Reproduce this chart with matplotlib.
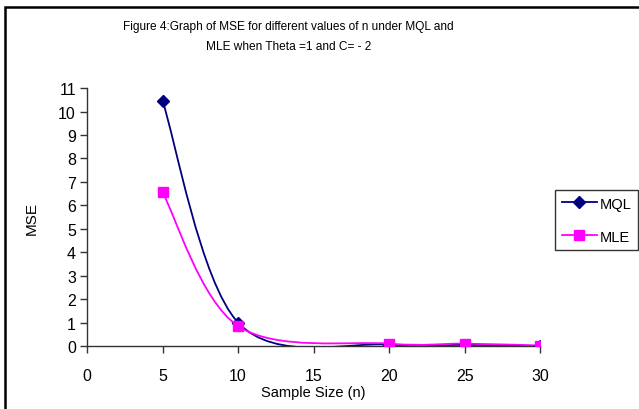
import matplotlib
matplotlib.use("Agg")
import matplotlib.pyplot as plt
from matplotlib.path import Path
from matplotlib.patches import PathPatch, Rectangle
from matplotlib.lines import Line2D

plt.rcParams['font.family'] = ['Liberation Sans', 'DejaVu Sans']

sample_size = [5, 10, 20, 25, 30]
mse_mql = [10.45, 1.0, 0.05, 0.05, 0.0]
mse_mle = [6.55, 0.85, 0.1, 0.1, 0.02]

title = "Figure 4:Graph of MSE for different values of n under MQL and\nMLE when Theta =1 and C= - 2"
x_ticks = [0, 5, 10, 15, 20, 25, 30]
y_ticks = list(range(0, 12))


def smooth_path(xs, ys):
    # Excel style smoothed line: cubic bezier segments through the points
    pts = list(zip(xs, ys))
    verts = [pts[0]]
    codes = [Path.MOVETO]
    n = len(pts)
    for i in range(n - 1):
        p0 = pts[i - 1] if i > 0 else pts[i]
        p1 = pts[i]
        p2 = pts[i + 1]
        p3 = pts[i + 2] if i + 2 < n else pts[i + 1]
        c1 = (p1[0] + (p2[0] - p0[0]) / 6, p1[1] + (p2[1] - p0[1]) / 6)
        c2 = (p2[0] - (p3[0] - p1[0]) / 6, p2[1] - (p3[1] - p1[1]) / 6)
        verts += [c1, c2, p2]
        codes += [Path.CURVE4] * 3
    return Path(verts, codes)


fig = plt.figure(figsize=(6.39, 4.10), dpi=100)
ax = fig.add_axes([0.1362, 0.1537, 0.709, 0.629])

series = [
    ("MQL", mse_mql, "#000080", "D", 6),
    ("MLE", mse_mle, "#FF00FF", "s", 6.5),
]
handles = []
for name, vals, color, marker, ms in series:
    ax.add_patch(PathPatch(smooth_path(sample_size, vals), facecolor="none",
                           edgecolor=color, lw=1.3, zorder=2))
    ax.plot(sample_size, vals, ls="none", marker=marker, ms=ms, color=color,
            markeredgecolor=color, zorder=3)
    handles.append(Line2D([], [], color=color, lw=1.3, marker=marker, ms=ms))

ax.set_xlim(0, 30)
ax.set_ylim(0, 11)
ax.set_xticks(x_ticks)
ax.set_yticks(y_ticks)
for s in ["top", "right"]:
    ax.spines[s].set_visible(False)
for s in ["left", "bottom"]:
    ax.spines[s].set_color("#333333")
    ax.spines[s].set_linewidth(1.0)
ax.tick_params(axis="both", direction="out", length=5, width=1.0,
               color="#333333", labelsize=11.5, pad=3)
ax.tick_params(axis="x", pad=11)
ax.set_xlabel("Sample Size (n)", fontsize=10.5, labelpad=1)
ax.set_ylabel("MSE", fontsize=11, labelpad=14)

fig.text(0.451, 0.91, title, ha="center", va="center", fontsize=8.6,
         linespacing=1.85)

leg = fig.legend(handles, ["MQL", "MLE"], loc="upper left",
                 bbox_to_anchor=(555 / 639, 1 - 191 / 410), fontsize=10.5,
                 frameon=True, fancybox=False, edgecolor="black",
                 handlelength=2.4, handletextpad=0.2, borderpad=0.45,
                 labelspacing=1.3, borderaxespad=0)
leg.get_frame().set_linewidth(1.0)

fig.patches.append(Rectangle((5 / 639, -0.1), 1.2, 1.1 - 8 / 410,
                             transform=fig.transFigure, fill=False,
                             edgecolor="black", lw=1.8))

fig.savefig("out.png", dpi=100)
